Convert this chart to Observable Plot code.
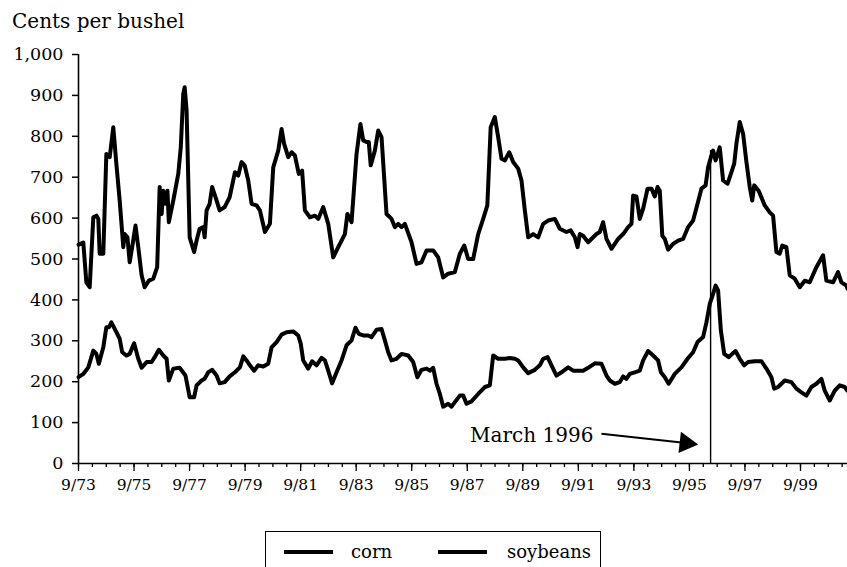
<!DOCTYPE html>
<html><head><meta charset="utf-8">
<script src="https://cdn.jsdelivr.net/npm/d3@7"></script>
<script src="https://cdn.jsdelivr.net/npm/@observablehq/plot@0.6"></script>
<style>
body{margin:0;background:#fff;width:847px;height:567px;overflow:hidden;position:relative;font-family:"DejaVu Serif",serif;color:#000;}
#title{position:absolute;left:12px;top:11px;font-size:20px;line-height:1;}
#chart{position:absolute;left:0;top:36px;}
#legend{position:absolute;left:265px;top:531px;width:334px;height:60px;border:1.5px solid #000;}
.lg-line{position:absolute;height:3.5px;background:#000;width:49px;}
.lg-text{position:absolute;font-size:18px;line-height:1;}
</style></head>
<body>
<div id="title">Cents per bushel</div>
<div id="chart"></div>
<div id="legend"></div>
<script>
// Series: time in decimal years, values in cents per bushel
const soyT = [1973.67,1973.84,1973.95,1974.07,1974.20,1974.31,1974.38,1974.43,1974.56,1974.67,
1974.79,1974.92,1975.03,1975.15,1975.28,1975.33,1975.43,1975.51,1975.60,1975.72,
1975.82,1975.94,1976.05,1976.20,1976.36,1976.50,1976.59,1976.66,1976.72,1976.80,
1976.87,1976.92,1977.08,1977.26,1977.35,1977.44,1977.49,1977.56,1977.67,1977.83,
1977.92,1978.03,1978.16,1978.21,1978.28,1978.39,1978.48,1978.60,1978.75,1978.93,
1979.11,1979.30,1979.42,1979.54,1979.65,1979.78,1979.90,1980.08,1980.20,1980.38,
1980.56,1980.68,1980.86,1980.98,1981.07,1981.22,1981.34,1981.46,1981.60,1981.72,
1981.82,1982.00,1982.18,1982.30,1982.48,1982.66,1982.84,1983.02,1983.26,1983.35,
1983.50,1983.68,1983.82,1983.92,1984.04,1984.12,1984.19,1984.34,1984.46,1984.58,
1984.76,1984.94,1985.06,1985.18,1985.30,1985.42,1985.66,1985.84,1986.02,1986.20,
1986.44,1986.62,1986.80,1986.98,1987.22,1987.40,1987.56,1987.70,1987.88,1988.06,
1988.24,1988.39,1988.51,1988.66,1988.78,1988.90,1989.02,1989.18,1989.32,1989.50,
1989.62,1989.74,1989.86,1990.04,1990.22,1990.40,1990.58,1990.82,1991.00,1991.24,
1991.39,1991.54,1991.64,1991.72,1991.84,1992.02,1992.32,1992.44,1992.56,1992.68,
1992.86,1993.10,1993.28,1993.46,1993.58,1993.64,1993.76,1993.88,1994.00,1994.16,
1994.30,1994.42,1994.52,1994.60,1994.69,1994.78,1994.90,1995.08,1995.26,1995.44,
1995.62,1995.80,1995.96,1996.10,1996.25,1996.34,1996.44,1996.52,1996.61,1996.76,
1996.88,1997.04,1997.16,1997.28,1997.36,1997.48,1997.60,1997.72,1997.84,1997.93,
1998.00,1998.16,1998.38,1998.56,1998.68,1998.80,1998.92,1999.01,1999.16,1999.28,
1999.46,1999.64,1999.82,2000.00,2000.24,2000.48,2000.60,2000.84,2001.02,2001.14,
2001.32,2001.36];
const soyV = [535,540,443,431,602,606,598,513,513,757,
749,822,733,643,529,561,553,492,529,582,
529,460,431,447,452,480,676,610,667,635,
667,590,643,708,773,904,920,863,553,517,
545,574,578,553,619,635,676,651,619,627,
651,712,704,737,729,692,635,631,619,566,
586,724,765,818,782,749,761,753,708,716,
619,602,606,598,627,586,504,529,561,610,
590,757,830,790,786,786,729,765,814,798,
610,598,578,586,578,586,541,488,492,521,
521,504,455,464,468,513,533,500,500,561,
598,631,822,847,798,745,741,761,737,721,
692,619,553,561,553,586,594,598,574,566,
570,553,529,561,557,541,561,566,590,549,
525,549,561,578,586,655,653,598,623,672,
672,653,676,667,557,549,523,537,545,549,
578,594,635,672,680,724,749,765,741,773,
692,684,708,733,782,835,806,737,676,643,
680,667,631,614,606,517,513,533,529,460,
452,431,447,443,480,509,447,443,468,443,
435,428];
const cornT = [1973.67,1973.84,1974.02,1974.20,1974.31,1974.40,1974.56,1974.67,1974.76,1974.85,
1975.03,1975.15,1975.24,1975.40,1975.51,1975.67,1975.82,1975.94,1976.12,1976.30,
1976.41,1976.56,1976.72,1976.84,1976.92,1977.08,1977.31,1977.52,1977.67,1977.83,
1977.92,1978.10,1978.21,1978.34,1978.48,1978.64,1978.75,1978.93,1979.11,1979.30,
1979.48,1979.60,1979.72,1979.84,1979.99,1980.14,1980.32,1980.50,1980.62,1980.80,
1980.98,1981.16,1981.40,1981.58,1981.67,1981.76,1981.94,1982.08,1982.24,1982.42,
1982.54,1982.66,1982.80,1982.96,1983.14,1983.32,1983.50,1983.64,1983.76,1983.92,
1984.10,1984.22,1984.40,1984.58,1984.70,1984.82,1984.94,1985.12,1985.30,1985.54,
1985.72,1985.87,1986.02,1986.20,1986.32,1986.44,1986.56,1986.68,1986.80,1986.98,
1987.10,1987.22,1987.40,1987.52,1987.64,1987.82,1988.06,1988.30,1988.48,1988.60,
1988.78,1989.02,1989.20,1989.38,1989.50,1989.68,1989.86,1990.10,1990.28,1990.40,
1990.56,1990.70,1990.88,1991.06,1991.30,1991.48,1991.66,1991.84,1992.02,1992.26,
1992.50,1992.68,1992.80,1992.98,1993.16,1993.28,1993.40,1993.52,1993.70,1993.88,
1994.00,1994.18,1994.36,1994.54,1994.64,1994.78,1994.92,1995.14,1995.38,1995.62,
1995.80,1995.96,1996.16,1996.28,1996.40,1996.52,1996.61,1996.70,1996.80,1996.92,
1997.08,1997.21,1997.33,1997.48,1997.64,1997.78,1998.02,1998.26,1998.44,1998.62,
1998.72,1998.86,1999.10,1999.34,1999.52,1999.70,1999.88,2000.06,2000.24,2000.42,
2000.54,2000.72,2000.90,2001.08,2001.26,2001.36];
const cornV = [211,219,235,276,268,244,284,333,333,345,
321,305,272,264,268,294,256,234,248,248,
260,278,264,256,203,232,234,215,162,162,
191,203,207,223,229,215,196,199,213,223,
235,262,252,240,227,240,237,244,284,297,
315,321,323,313,293,252,232,250,240,258,
252,227,196,223,252,289,301,332,317,313,
313,309,327,329,301,272,252,256,268,264,
248,211,229,232,227,234,195,170,139,146,
139,150,166,166,146,152,170,187,191,264,
256,256,258,256,252,235,221,229,240,256,
260,240,215,223,235,227,227,227,234,245,
244,215,203,195,199,213,207,219,223,227,
252,275,264,252,223,211,195,219,235,258,
272,297,309,345,390,415,435,423,325,268,
260,268,275,256,240,248,250,250,232,211,
183,187,203,199,183,174,166,187,195,207,
178,154,178,191,187,178];

const seriesNames = ["corn", "soybeans"];
const yTicks = [0,100,200,300,400,500,600,700,800,900,1000];
const xTickValues = [1973.667,1975.667,1977.667,1979.667,1981.667,1983.667,1985.667,1987.667,1989.667,1991.667,1993.667,1995.667,1997.667,1999.667];
const xTickLabels = ["9/73","9/75","9/77","9/79","9/81","9/83","9/85","9/87","9/89","9/91","9/93","9/95","9/97","9/99"];
const xDomain = [1973.667, 2001.36];

// Annotation
const markerDate = [1996.43];
const markerTop = 765;
const annotLabel = ["March 1996"];
const annotText = {x: 1992.21, y: 69};
const arrowFrom = {x: 1992.50, y: 73};
const arrowTo = {x: 1995.54, y: 50};

const table = [
  ...cornT.map((t, i) => ({series: "corn", t, v: cornV[i]})),
  ...soyT.map((t, i) => ({series: "soybeans", t, v: soyV[i]}))
];
const minorTicks = d3.range(0, 56).map(i => 1973.667 + i / 2);

const chart = Plot.plot({
  width: 847,
  height: 462,
  marginLeft: 78,
  marginRight: 0,
  marginTop: 18,
  marginBottom: 35,
  style: {fontFamily: '"DejaVu Serif", serif', background: "transparent", color: "#000"},
  x: {type: "linear", domain: xDomain, label: null},
  y: {domain: [0, 1000], label: null},
  marks: [
    Plot.axisY(yTicks, {tickSize: 6, tickPadding: 9, tickFormat: d3.format(","), fontSize: 17.5, label: null, strokeWidth: 1.5}),
    Plot.axisX(minorTicks, {tickSize: 4, fill: "none", label: null, strokeWidth: 1.3}),
    Plot.axisX(xTickValues, {tickSize: 8, tickPadding: 7, tickFormat: (d, i) => xTickLabels[i], fontSize: 15.5, label: null, strokeWidth: 1.3}),
    Plot.ruleX([xDomain[0]], {y1: 0, y2: 1000, strokeWidth: 1.6}),
    Plot.ruleY([0], {strokeWidth: 1.6}),
    Plot.line(table, {x: "t", y: "v", z: "series", stroke: "#000", strokeWidth: 4, strokeLinejoin: "round"}),
    Plot.ruleX(markerDate, {y1: 0, y2: markerTop, strokeWidth: 1.4}),
    Plot.text(annotLabel, {x: annotText.x, y: annotText.y, textAnchor: "end", fontSize: 20}),
    Plot.link([arrowFrom], {x1: arrowFrom.x, y1: arrowFrom.y, x2: arrowTo.x, y2: arrowTo.y, strokeWidth: 2}),
    Plot.dot([arrowTo], {x: "x", y: "y", symbol: "triangle", r: 8, fill: "#000", stroke: "none", rotate: 96.5})
  ]
});
document.getElementById("chart").appendChild(chart);

const lg = document.getElementById("legend");
const lineLeft = [18, 172];
const textLeft = [85, 241];
seriesNames.forEach((name, i) => {
  const l = document.createElement("div");
  l.className = "lg-line";
  l.style.left = lineLeft[i] + "px";
  l.style.top = "18px";
  lg.appendChild(l);
  const t = document.createElement("div");
  t.className = "lg-text";
  t.style.left = textLeft[i] + "px";
  t.style.top = "11px";
  t.textContent = name;
  lg.appendChild(t);
});
</script>
</body></html>
